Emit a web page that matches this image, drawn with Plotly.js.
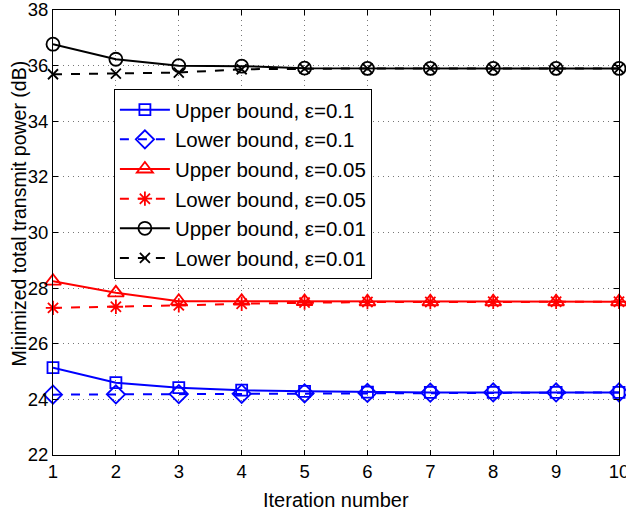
<!DOCTYPE html>
<html><head><meta charset="utf-8">
<script src="https://cdn.plot.ly/plotly-3.0.1.min.js"></script>
<style>body{margin:0;padding:0;background:#fff}#c{width:626px;height:514px}</style>
</head><body><div id="c"></div>
<script>
const iterations = [1,2,3,4,5,6,7,8,9,10];
const upper01  = [25.14,24.60,24.42,24.33,24.29,24.26,24.25,24.25,24.25,24.25];
const lower01  = [24.17,24.18,24.19,24.20,24.22,24.23,24.24,24.25,24.25,24.25];
const upper005 = [28.25,27.83,27.53,27.53,27.52,27.51,27.51,27.51,27.51,27.51];
const lower005 = [27.29,27.33,27.38,27.44,27.48,27.50,27.50,27.51,27.51,27.51];
const upper001 = [36.77,36.23,36.00,35.98,35.91,35.90,35.90,35.90,35.90,35.90];
const lower001 = [35.69,35.71,35.75,35.87,35.89,35.90,35.90,35.90,35.90,35.90];
const names = ['Upper bound, ε=0.1','Lower bound, ε=0.1','Upper bound, ε=0.05','Lower bound, ε=0.05','Upper bound, ε=0.01','Lower bound, ε=0.01'];
const yTicks = [22,24,26,28,30,32,34,36,38];
const xTitle = 'Iteration number';
const yTitle = 'Minimized total transmit power (dB)';

function tr(y, name, color, dash, symbol, msize, g){
  return {x: iterations, y: y, name: name, type:'scatter', mode:'lines+markers', cliponaxis:false,
    legendgroup:g,
    line:{color:color, width:2, dash:dash},
    marker:{symbol:symbol, size:msize, color:color, line:{color:color, width:1.8}}};
}
const data = [
  tr(upper01, names[0], '#0000ff', 'solid', 'square-open', 11, 'a'),
  tr(lower01, names[1], '#0000ff', 'dash', 'diamond-open', 14, 'b'),
  tr(upper005, names[2], '#ff0000', 'solid', 'triangle-up-open', 14, 'c'),
  tr(lower005, names[3], '#ff0000', 'dash', 'asterisk-open', 12, 'd'),
  tr(upper001, names[4], '#000000', 'solid', 'circle-open', 13, 'e'),
  tr(lower001, names[5], '#000000', 'dash', 'x-thin-open', 10, 'f'),
];
const axisCommon = {showline:true, linecolor:'#000', linewidth:1, mirror:'allticks', ticks:'inside', ticklen:5, tickcolor:'#000',
  showgrid:true, gridcolor:'#777', griddash:'1px,4px', gridwidth:1, zeroline:false,
  tickfont:{size:18.5, color:'#000'}, ticklabeloverflow:'allow'};
const layout = {
  width:626, height:514, margin:{l:52.5, r:7, t:10.4, b:58.5},
  paper_bgcolor:'#fff', plot_bgcolor:'#fff',
  font:{family:'"Liberation Sans", Arial, sans-serif', color:'#000'},
  showlegend:true,
  legend:{x:0.1076, y:0.8227, xanchor:'left', yanchor:'top', bgcolor:'#fff', bordercolor:'#000', borderwidth:1,
    font:{size:20.5, color:'#000'}, tracegroupgap:3, itemwidth:50, traceorder:'normal'},
  xaxis: Object.assign({}, axisCommon, {range:[1,10], tickvals:iterations, ticktext:iterations.map(String)}),
  yaxis: Object.assign({}, axisCommon, {range:[22,38], tickvals:yTicks, ticktext:yTicks.map(String)}),
  annotations:[
    {text:xTitle, xref:'paper', yref:'paper', x:0.5, y:-0.102, xanchor:'center', yanchor:'middle', showarrow:false, font:{size:20, color:'#000'}},
    {text:yTitle, xref:'paper', yref:'paper', x:-0.0608, y:0.542, xanchor:'center', yanchor:'middle', textangle:-90, showarrow:false, font:{size:19.5, color:'#000'}}
  ]
};
Plotly.newPlot('c', data, layout, {displayModeBar:false, staticPlot:true});
</script></body></html>
